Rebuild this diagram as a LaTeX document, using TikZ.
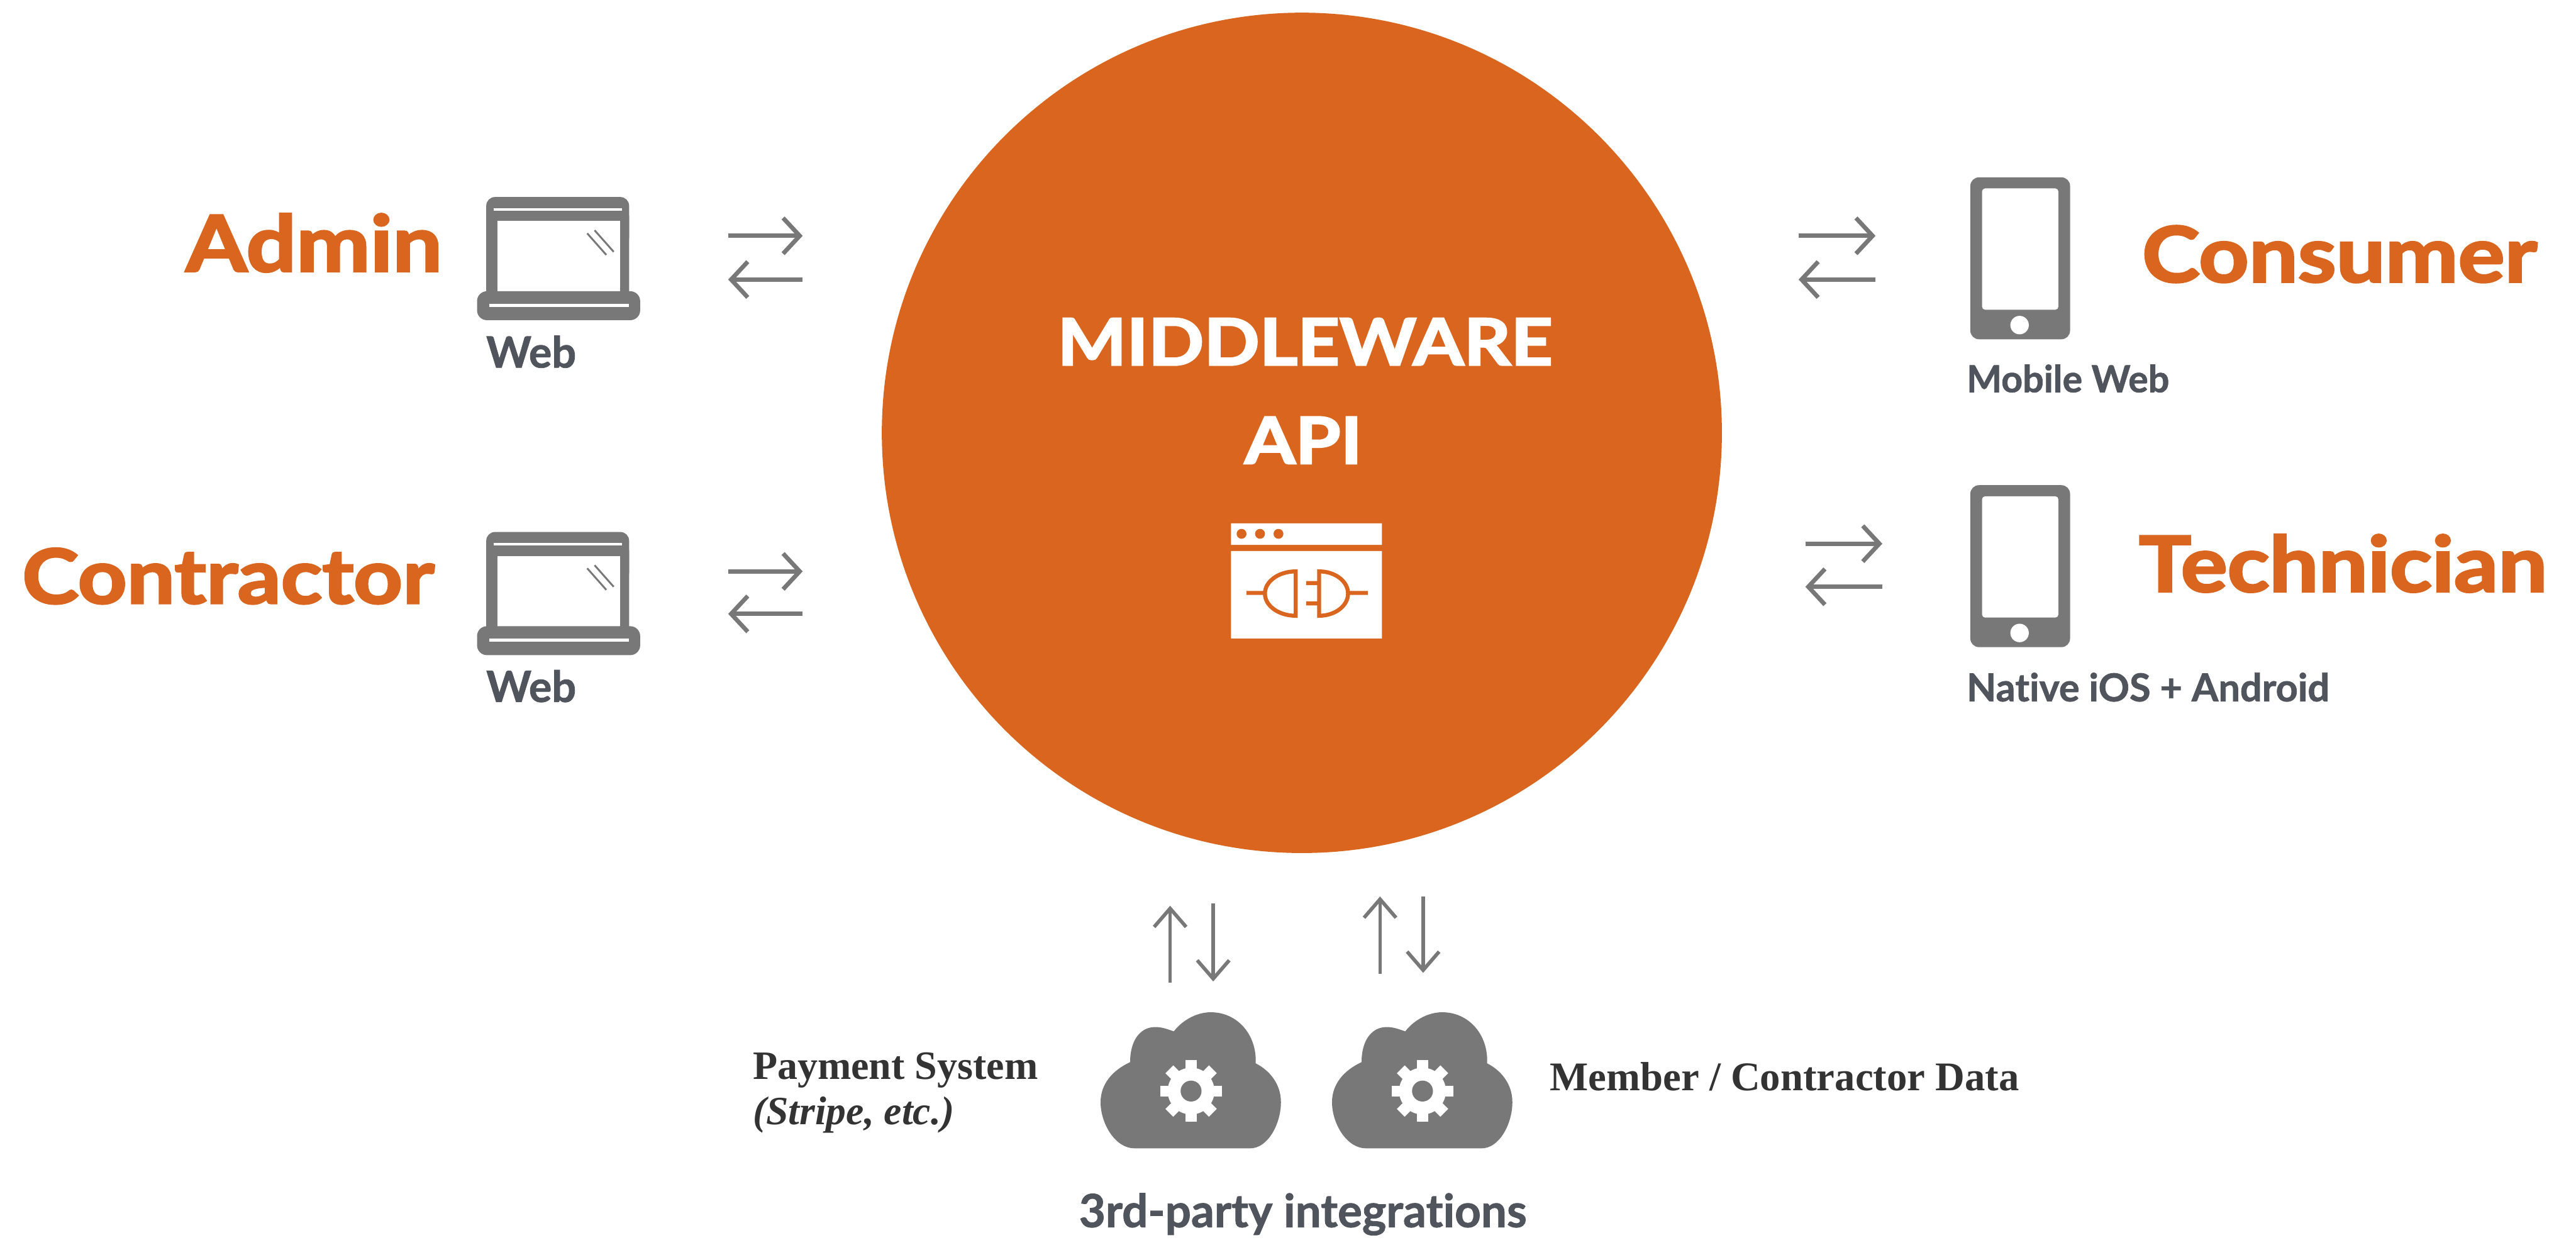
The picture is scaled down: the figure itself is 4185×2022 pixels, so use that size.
\documentclass[tikz,border=0pt]{standalone}
\usepackage{fontspec}
\usepackage{graphicx}
\usetikzlibrary{arrows.meta}
\setmainfont[Ligatures=NoCommon,BoldFeatures={FakeBold=1.2}]{Lato}
\newfontfamily\heavy[Ligatures=NoCommon,BoldFeatures={FakeBold=2.5}]{Lato}
\newfontfamily\serifbold{Liberation Serif}
\definecolor{brand}{HTML}{D9651E}
\definecolor{icon}{HTML}{787878}
\definecolor{label}{HTML}{50545C}
\definecolor{serifink}{HTML}{333333}
\newcommand\fitw[2]{\resizebox{#1}{!}{#2}}
\newcommand\fitwide[2]{\resizebox{#1}{!}{\scalebox{1.13}[1]{#2}}}
\tikzset{
  every node/.style={inner sep=0pt,outer sep=0pt,anchor=base west},
  role/.style={text=brand,font=\heavy\bfseries},
  sublabel/.style={text=label,font=\bfseries},
  serif/.style={text=serifink,font=\serifbold\bfseries},
  flow/.style={draw=icon,line width=0.07cm,-{Straight Barb[length=0.27cm,width=0.58cm]}},
  flowthin/.style={draw=icon,line width=0.058cm,-{Straight Barb[length=0.3cm,width=0.52cm]}},
  pics/laptop/.style={code={
    \fill[icon,rounded corners=0.14cm] (790,320) rectangle (1022,400);
    \fill[icon] (790,350) rectangle (808,480) (1007,350) rectangle (1022,480);
    \fill[white] (808,359) rectangle (1007,473);
    \fill[icon,rounded corners=0.16cm] (775,473) rectangle (1040,520);
    \draw[white,line width=0.04cm] (802,340) -- (1010,340);
    \draw[white,line width=0.05cm] (795,496) -- (1022,496);
    \draw[icon,line width=0.03cm] (954,379) -- (985,414) (966,374) -- (997,409);
  }},
  pics/phone/.style={code={
    \fill[icon,rounded corners=0.14cm] (3201,288) rectangle (3363,551);
    \fill[white,rounded corners=0.05cm] (3220,306) rectangle (3344,503);
    \fill[white] (3281,528) circle (15);
  }},
  pics/cloud/.style={code={
    \fill[icon] (1843,1865) -- (2031,1865)
      .. controls (2060,1865) and (2081,1825) .. (2081,1790)
      .. controls (2081,1760) and (2062,1738) .. (2040,1727)
      .. controls (2042,1680) and (2010,1644) .. (1967,1644)
      .. controls (1943,1644) and (1920,1658) .. (1907,1675)
      .. controls (1898,1672) and (1888,1668) .. (1877,1668)
      .. controls (1852,1668) and (1836,1690) .. (1836,1725)
      .. controls (1808,1738) and (1788,1760) .. (1788,1790)
      .. controls (1788,1825) and (1812,1865) .. (1843,1865) -- cycle;
    \fill[white] (1935,1772) circle (38);
    \foreach \a in {0,45,...,315}{
      \fill[white,rotate around={\a:(1935,1772)}] (1926,1722) rectangle (1944,1745);
    }
    \fill[icon] (1935,1772) circle (17);
  }},
}
\begin{document}
\begin{tikzpicture}[x=0.01cm,y=-0.01cm]
\useasboundingbox (0,0) rectangle (4185,2022);
% hub
\node[circle,fill=brand,minimum size=13.64cm,anchor=center] (hub) at (2115,703) {};
\node[text=white,font=\heavy\bfseries] (mw) at (1718,593) {\fitwide{8.04cm}{MIDDLEWARE}};
\node[text=white,font=\heavy\bfseries] (api) at (2022,753) {\fitwide{1.91cm}{API}};
% hub icon
\fill[white] (2000,850) rectangle (2245,885) (2000,895) rectangle (2245,1037);
\fill[brand] (2017,867) circle (8) (2047,867) circle (8) (2077,867) circle (8);
\draw[brand,line width=0.065cm]
  (2105,928) arc[start angle=90,end angle=270,x radius=0.5cm,y radius=0.36cm] -- cycle
  (2143,928) arc[start angle=90,end angle=-90,x radius=0.47cm,y radius=0.36cm] -- cycle
  (2025,963) -- (2055,963) (2190,963) -- (2222,963)
  (2143,947) -- (2122,947) (2143,980) -- (2122,980);
% left
\pic at (0,0) {laptop};
\pic at (0,544) {laptop};
\node[role] (admin) at (302,441) {\fitwide{4.16cm}{Admin}};
\node[role] (contractor) at (36,980) {\fitwide{6.69cm}{Contractor}};
\node[sublabel] (web1) at (790,597) {\fitw{1.46cm}{Web}};
\node[sublabel] (web2) at (790,1140) {\fitw{1.46cm}{Web}};
% right
\pic at (0,0) {phone};
\pic at (0,500) {phone};
\node[role] (consumer) at (3480,458) {\fitwide{6.41cm}{Consumer}};
\node[role] (technician) at (3475,961) {\fitwide{6.63cm}{Technician}};
\node[sublabel] (mobile) at (3195,637) {\fitw{3.29cm}{Mobile Web}};
\node[sublabel] (native) at (3195,1139) {\fitw{5.89cm}{Native iOS + Android}};
% side arrows
\coordinate (a1a) at (1183,383); \coordinate (a1b) at (1304,383);
\coordinate (a2a) at (1304,454); \coordinate (a2b) at (1183,454);
\coordinate (a3a) at (1183,928); \coordinate (a3b) at (1304,928);
\coordinate (a4a) at (1304,997); \coordinate (a4b) at (1183,997);
\coordinate (b1a) at (2922,383); \coordinate (b1b) at (3047,383);
\coordinate (b2a) at (3047,454); \coordinate (b2b) at (2922,454);
\coordinate (b3a) at (2933,883); \coordinate (b3b) at (3058,883);
\coordinate (b4a) at (3058,953); \coordinate (b4b) at (2933,953);
\foreach \s/\e in {a1a/a1b,a2a/a2b,a3a/a3b,a4a/a4b,b1a/b1b,b2a/b2b,b3a/b3b,b4a/b4b}
  \draw[flow] (\s) -- (\e);
% bottom arrows
\coordinate (c1a) at (1901,1596); \coordinate (c1b) at (1901,1471);
\coordinate (c2a) at (1971,1467); \coordinate (c2b) at (1971,1594);
\coordinate (c3a) at (2242,1582); \coordinate (c3b) at (2242,1456);
\coordinate (c4a) at (2312,1456); \coordinate (c4b) at (2312,1580);
\foreach \s/\e in {c1a/c1b,c2a/c2b,c3a/c3b,c4a/c4b}
  \draw[flowthin] (\s) -- (\e);
% clouds
\pic at (0,0) {cloud};
\pic at (376,0) {cloud};
\node[serif] (pay) at (1223,1753) {\fitw{4.63cm}{Payment System}};
\node[serif,font=\serifbold\bfseries\itshape] (stripe) at (1223,1826) {\fitw{3.27cm}{(Stripe, etc.)}};
\node[serif] (member) at (2518,1771) {\fitw{7.62cm}{Member / Contractor Data}};
\node[sublabel] (third) at (1753,1993) {\fitw{7.27cm}{3rd-party integrations}};
\end{tikzpicture}
\end{document}
